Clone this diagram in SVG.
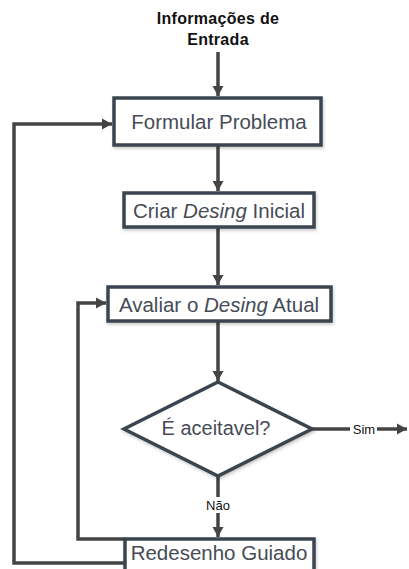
<svg xmlns="http://www.w3.org/2000/svg" width="409" height="569" viewBox="0 0 409 569">
<defs>
<marker id="ah" markerWidth="12" markerHeight="12" refX="10" refY="6" orient="auto" markerUnits="userSpaceOnUse">
<path d="M0,0.5 L10,6 L0,11.5 Z" fill="#444"/>
</marker>
<filter id="sh" x="-10%" y="-20%" width="130%" height="150%">
<feDropShadow dx="1" dy="2" stdDeviation="1.5" flood-color="#000" flood-opacity="0.2"/>
</filter>
</defs>
<style>
.box{fill:#fff;stroke:#3b4450;stroke-width:3.5;filter:url(#sh)}
.t{font-family:"Liberation Sans",Arial,sans-serif;fill:#464c55;text-anchor:middle;dominant-baseline:central;font-size:20.5px}
.c{fill:none;stroke:#444;stroke-width:3.5}
.lbl{font-family:"Liberation Sans",Arial,sans-serif;fill:#111;font-size:13px;text-anchor:middle;dominant-baseline:central}
</style>
<rect width="409" height="569" fill="#fff"/>
<g id="connectors">
<path class="c" d="M218,52 V96" marker-end="url(#ah)"/>
<path class="c" d="M218,146 V191" marker-end="url(#ah)"/>
<path class="c" d="M218,228 V285" marker-end="url(#ah)"/>
<path class="c" d="M218,322 V381" marker-end="url(#ah)"/>
<path class="c" d="M218,476 V537" marker-end="url(#ah)"/>
<path class="c" d="M312,429 H407" marker-end="url(#ah)"/>
<path class="c" d="M125,539 H78 V303 H106" marker-end="url(#ah)"/>
<path class="c" d="M125,563 H14 V124 H112" marker-end="url(#ah)"/>
<rect x="350" y="421" width="27" height="16" fill="#fff"/>
<text class="lbl" x="364" y="429">Sim</text>
<rect x="203" y="497" width="30" height="16" fill="#fff"/>
<text class="lbl" x="218" y="505">Não</text>
</g>
<g id="entrada">
<text class="t" x="218" y="18" style="font-size:16px;font-weight:bold;fill:#111;letter-spacing:0.3px">Informações de</text>
<text class="t" x="218" y="39" style="font-size:16px;font-weight:bold;fill:#111;letter-spacing:0.3px">Entrada</text>
</g>
<g id="formular">
<rect class="box" x="114" y="98" width="207" height="47"/>
<text class="t" x="219" y="121">Formular Problema</text>
</g>
<g id="criar">
<rect class="box" x="124" y="193" width="190" height="34"/>
<text class="t" x="219" y="210">Criar <tspan font-style="italic">Desing</tspan> Inicial</text>
</g>
<g id="avaliar">
<rect class="box" x="108" y="287" width="223" height="34"/>
<text class="t" x="219" y="304">Avaliar o <tspan font-style="italic">Desing</tspan> Atual</text>
</g>
<g id="aceitavel">
<polygon class="box" points="218,382 312,429 218,476 124,429"/>
<text class="t" x="216" y="428" style="font-size:20px">É aceitavel?</text>
</g>
<g id="redesenho">
<rect class="box" x="125" y="539" width="189" height="40"/>
<text class="t" x="219" y="552">Redesenho Guiado</text>
</g>
</svg>
